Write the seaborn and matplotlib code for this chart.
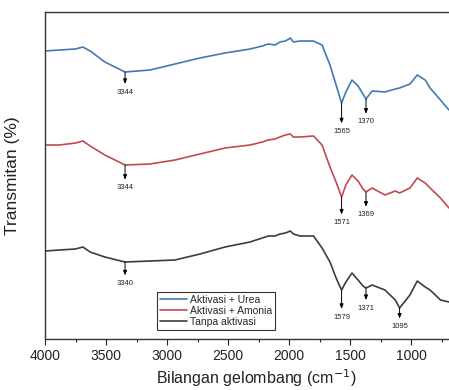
import numpy as np
import pandas as pd
import matplotlib
matplotlib.use("Agg")
import matplotlib.pyplot as plt
from matplotlib.ticker import MultipleLocator
import seaborn as sns

# bilangan gelombang (cm-1)
wn = [4000, 3880, 3750, 3690, 3630, 3510, 3344, 3140, 2935, 2730, 2525, 2320, 2220, 2170,
      2115, 2075, 2030, 1990, 1965, 1910, 1800, 1730, 1665, 1615, 1570, 1535, 1485, 1435,
      1395, 1370, 1320, 1215, 1130, 1095, 1010, 950, 885, 845, 760, 690]

# transmitan (satuan relatif, kurva sudah digeser)
urea = [288, 289, 290, 292, 288, 277, 267, 269, 275, 281, 286, 290, 293, 295,
        294, 297, 298, 301, 297, 298, 298, 294, 274, 254, 236, 247, 259, 253,
        245, 240, 248, 247, 250, 251, 255, 264, 259, 251, 239, 229]
amonia = [194, 194, 196, 198, 193, 184, 174, 175, 179, 185, 191, 194, 197, 199,
          200, 202, 204, 205, 202, 202, 203, 194, 172, 157, 142, 154, 164, 158,
          150, 147, 151, 144, 148, 146, 151, 161, 156, 151, 141, 131]
tanpa = [88, 89, 90, 92, 87, 82, 77, 78, 79, 85, 92, 97, 101, 103,
         103, 105, 106, 108, 105, 103, 103, 91, 77, 61, 49, 57, 66, 59,
         53, 51, 54, 49, 39, 31, 44, 58, 52, 49, 39, 37]

labels = ["Aktivasi + Urea", "Aktivasi + Amonia", "Tanpa aktivasi"]
warna = ["#4279b3", "#c04a50", "#3d3d3d"]

# puncak: (seri, bilangan gelombang, label)
puncak = [
    (0, 3344, "3344"), (0, 1570, "1565"), (0, 1370, "1370"),
    (1, 3344, "3344"), (1, 1570, "1571"), (1, 1370, "1369"),
    (2, 3344, "3340"), (2, 1570, "1579"), (2, 1370, "1371"), (2, 1095, "1095"),
]
panjang_panah = [12, 18, 14, 14, 16, 14, 13, 17, 12, 11]

sns.set_theme(style="ticks")
plt.rcParams["font.family"] = ["Liberation Sans", "DejaVu Sans"]

data = [urea, amonia, tanpa]
df = pd.concat([
    pd.DataFrame({"wn": wn, "T": vals, "sampel": lab})
    for vals, lab in zip(data, labels)
])

fig = plt.figure(figsize=(4.49, 3.90), dpi=100)
ax = fig.add_axes([45 / 449, 51 / 390, 404 / 449, 327 / 390])

sns.lineplot(data=df, x="wn", y="T", hue="sampel", palette=warna,
             hue_order=labels, linewidth=1.2, ax=ax, legend=True)

ax.set_xlim(4000, 690)
ax.set_ylim(0, 327)
ax.set_yticks([])
ax.xaxis.set_major_locator(MultipleLocator(500))
ax.xaxis.set_minor_locator(MultipleLocator(250))
ax.tick_params(axis="x", which="major", direction="out", length=4, width=0.8,
               labelsize=10, pad=3, top=False, colors="#222222")
ax.tick_params(axis="x", which="minor", direction="out", length=2.5, width=0.8, top=False)
for s in ax.spines.values():
    s.set_linewidth(1.0)
    s.set_color("#333333")
ax.spines["right"].set_visible(False)

ax.set_xlabel("Bilangan gelombang (cm$^{-1}$)", fontsize=11.5, color="#222222")
ax.set_ylabel("Transmitan (%)", fontsize=12.5, color="#222222")
ax.xaxis.set_label_coords(0.522, -0.088)
ax.yaxis.set_label_coords(-0.062, 0.5)

for (i, w, lab), L in zip(puncak, panjang_panah):
    y = data[i][wn.index(w)]
    ax.annotate(lab, xy=(w, y), xytext=(0, -L), textcoords="offset points",
                ha="center", va="top", fontsize=5.5, color="#222222",
                arrowprops=dict(arrowstyle="<|-,head_length=0.5,head_width=0.2",
                                color="black", lw=0.7, shrinkA=1, shrinkB=0))

leg = ax.legend(loc="lower left", bbox_to_anchor=(0.277, 0.028), borderaxespad=0,
                fontsize=7.5, handlelength=2.6, handletextpad=0.3, labelspacing=0.1,
                borderpad=0.3, fancybox=False, framealpha=1, title=None)
leg.get_frame().set_edgecolor("#333333")
leg.get_frame().set_linewidth(0.8)

fig.savefig("out.png", dpi=100)
